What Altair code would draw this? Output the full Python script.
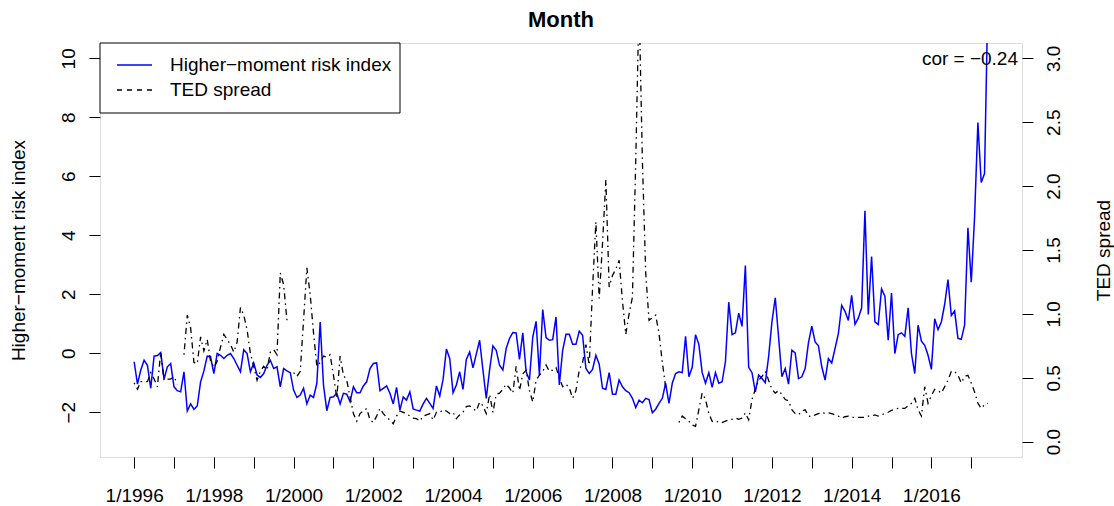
import altair as alt
import pandas as pd

# month index 0 = 1/1996
hmri = [
    -0.29, -1.05, -0.57, -0.24, -0.41, -1.19, -0.10, -0.08, 0.02, -0.88,
    -0.46, -0.35, -1.14, -1.27, -1.31, -0.63, -1.96, -1.72, -1.90, -1.79,
    -0.97, -0.60, -0.10, -0.12, -0.69, -0.01, -0.07, -0.18, -0.07, -0.01,
    -0.18, -0.41, -0.63, 0.12, -0.01, -0.63, -0.33, -0.74, -0.82, -0.69,
    -0.41, -0.24, -0.52, -0.46, -1.14, -0.52, -0.60, -0.66, -1.25, -1.50,
    -1.42, -1.19, -1.72, -1.42, -1.50, -1.02, 1.06, -1.08, -1.95, -1.50,
    -1.48, -1.36, -1.72, -1.36, -1.39, -1.64, -1.14, -1.34, -1.34, -1.11,
    -0.97, -0.52, -0.35, -0.33, -1.27, -1.19, -1.11, -1.36, -1.72, -1.16,
    -1.93, -1.48, -1.59, -1.31, -1.89, -1.93, -1.96, -1.72, -1.53, -1.70,
    -1.87, -1.11, -1.45, -0.89, 0.14, -0.18, -1.34, -1.08, -0.63, -1.23,
    -0.21, 0.04, -0.50, -0.03, 0.44, -0.57, -1.53, -0.57, 0.25, 0.10,
    -0.41, -0.57, 0.16, 0.50, 0.70, 0.69, -0.21, 0.69, -0.63, -0.91,
    0.55, 1.08, -0.74, 1.48, 0.53, 0.44, 0.46, 1.23, -1.08, 0.10,
    0.64, 0.64, 0.30, 0.30, 0.75, 0.61, -0.52, -0.69, -0.55, -0.07,
    -0.37, -1.19, -1.23, -0.66, -1.39, -1.39, -0.91, -1.14, -1.27, -1.34,
    -1.53, -1.84, -1.59, -1.68, -1.53, -1.57, -2.02, -1.90, -1.70, -1.53,
    -1.02, -1.70, -1.02, -0.69, -0.63, -0.66, 0.57, -0.80, -0.48, 0.63,
    0.30, -0.66, -1.02, -0.66, -1.16, -0.66, -1.02, -0.97, -0.29, 1.73,
    0.63, 0.69, 1.36, 0.91, 2.97, -0.48, -0.66, -1.31, -0.74, -0.86,
    -1.00, -0.12, 1.06, 1.88, 0.55, -0.80, -0.52, -1.05, 0.10, 0.01,
    -0.86, -0.80, -0.52, 0.36, 0.92, 0.38, 0.25, -0.46, -0.91, -0.18,
    -0.33, 0.16, 0.66, 1.62, 1.42, 1.11, 1.96, 0.98, 1.19, 1.54,
    4.83, 1.31, 3.28, 1.06, 0.97, 2.18, 1.93, 0.44, 2.04, -0.01,
    0.63, 0.69, 0.57, 1.54, -0.01, -0.69, 0.95, 0.41, 0.27, -0.07,
    -0.55, 1.17, 0.80, 1.06, 1.66, 2.50, 1.28, 1.43, 0.50, 0.47,
    0.95, 4.25, 2.41, 4.60, 7.82, 5.79, 6.09, 12.0,
]

ted = [
    0.46, 0.41, 0.47, 0.47, 0.47, 0.54, 0.49, 0.43, 0.70, 0.48,
    0.49, 0.49, 0.51, 0.45, None, 0.68, 0.99, 0.89, 0.62, 0.61,
    0.82, 0.71, 0.80, 0.63, 0.58, 0.63, 0.74, 0.84, 0.80, 0.76,
    0.70, 0.78, 1.05, 0.99, 0.875, 0.69, 0.59, 0.48, 0.55, 0.59,
    0.56, 0.70, 0.72, 0.68, 1.32, 1.23, 0.95, None, 0.54, 0.51,
    0.55, 0.95, 1.36, 1.15, 0.85, 0.59, 0.62, 0.67, 0.66, 0.68,
    0.52, 0.34, 0.67, 0.52, 0.48, 0.35, 0.22, 0.16, 0.22, 0.24,
    0.26, 0.17, 0.15, 0.20, 0.26, 0.22, 0.19, 0.17, 0.14, 0.20,
    0.24, 0.23, 0.22, 0.20, 0.185, 0.18, 0.16, 0.20, 0.21, 0.22,
    0.17, 0.23, 0.23, 0.25, 0.24, 0.22, 0.23, 0.18, 0.21, 0.23,
    0.275, 0.28, 0.26, 0.24, 0.31, 0.28, 0.22, 0.37, 0.23, 0.37,
    0.38, 0.41, 0.45, 0.42, 0.38, 0.59, 0.40, 0.53, 0.56, 0.40,
    0.31, 0.48, 0.52, 0.55, 0.60, 0.55, 0.56, 0.58, 0.50, 0.43,
    0.45, 0.42, 0.34, 0.40, 0.56, 0.62, 0.76, 0.60, 1.20, 1.72,
    1.12, 1.55, 2.05, 1.21, 1.30, 1.35, 1.42, 1.10, 0.84, 1.00,
    1.13, 2.20, 3.45, 2.20, 1.32, 0.95, 0.97, 0.99, 0.85, 0.62,
    0.43, None, None, None, 0.15, 0.20, 0.18, 0.16, 0.13, 0.12,
    0.25, 0.38, 0.33, 0.22, 0.16, 0.15, 0.16, 0.15, 0.16, 0.17,
    0.175, 0.185, 0.175, 0.185, 0.225, 0.17, 0.33, 0.41, 0.48, 0.51,
    0.55, 0.48, 0.41, 0.38, 0.40, 0.37, 0.33, 0.32, 0.25, 0.22,
    0.21, 0.24, 0.25, 0.20, 0.195, 0.21, 0.22, 0.23, 0.22, 0.225,
    0.22, 0.21, 0.20, 0.185, 0.195, 0.20, 0.19, 0.19, 0.19, 0.19,
    0.19, 0.20, 0.20, 0.21, 0.20, 0.21, 0.22, 0.23, 0.245, 0.255,
    0.26, 0.26, 0.26, 0.28, 0.30, 0.34, 0.25, 0.20, 0.43, 0.30,
    0.36, 0.41, 0.40, 0.38, 0.43, 0.48, 0.55, 0.55, 0.52, 0.46,
    0.51, 0.52, 0.46, 0.39, 0.30, 0.26, 0.29, 0.30,
]

months = list(range(len(hmri)))

xtick_values = list(range(0, 253, 12))
xtick_labels = ["1/1996", "", "1/1998", "", "1/2000", "", "1/2002", "",
                "1/2004", "", "1/2006", "", "1/2008", "", "1/2010", "",
                "1/2012", "", "1/2014", "", "1/2016", ""]
left_ticks = [-2, 0, 2, 4, 6, 8, 10]
right_ticks = [0.0, 0.5, 1.0, 1.5, 2.0, 2.5, 3.0]

title_text = "Month"
left_title = "Higher\u2212moment risk index"
right_title = "TED spread"
legend_labels = ["Higher\u2212moment risk index", "TED spread"]
cor_text = "cor = \u22120.24"

df = pd.DataFrame({"i": months, "hmri": hmri, "ted": ted})
df["seg"] = df["ted"].isna().cumsum()
ted_df = df.dropna(subset=["ted"])

W, H = 922, 414
FONT = "Liberation Sans"
FS = 19

x_scale = alt.Scale(domain=[-10.28, 267.28], nice=False, zero=False)
label_expr = "[" + ",".join("'%s'" % l for l in xtick_labels) + "][round(datum.value/12)]"
x_axis = alt.Axis(values=xtick_values, labelExpr=label_expr, title=None, grid=False,
                  domain=False, tickSize=11, tickColor="black", tickWidth=1,
                  labelFont=FONT, labelFontSize=FS, labelColor="black",
                  labelPadding=27, labelBaseline="middle", labelFlush=False,
                  labelOverlap=False)

left_axis = alt.Axis(orient="left", values=left_ticks, title=left_title, grid=False,
                     domain=False, tickSize=11, tickColor="black", tickWidth=1,
                     labelFont=FONT, labelFontSize=FS, labelColor="black",
                     labelAngle=270, labelAlign="center", labelBaseline="middle",
                     labelPadding=21, labelFlush=False, labelOverlap=False,
                     titleFont=FONT, titleFontSize=FS, titleFontWeight="normal",
                     titleColor="black", titleAngle=270, titleX=-82, titleY=H / 2,
                     titleAlign="center", titleBaseline="middle")

right_axis = alt.Axis(orient="right", values=right_ticks, format=".1f", title=right_title,
                      grid=False, domain=False, tickSize=11, tickColor="black", tickWidth=1,
                      labelFont=FONT, labelFontSize=FS, labelColor="black",
                      labelAngle=270, labelAlign="center", labelBaseline="middle",
                      labelPadding=20, labelFlush=False, labelOverlap=False,
                      titleFont=FONT, titleFontSize=FS, titleFontWeight="normal",
                      titleColor="black", titleAngle=270, titleX=81, titleY=H / 2,
                      titleAlign="center", titleBaseline="middle")

blue = alt.Chart(df).mark_line(color="#0000FF", strokeWidth=1.5, clip=True).encode(
    x=alt.X("i:Q", scale=x_scale, axis=x_axis),
    y=alt.Y("hmri:Q", scale=alt.Scale(domain=[-3.52, 10.52], nice=False, zero=False),
            axis=left_axis),
)

ted_line = alt.Chart(ted_df).mark_line(color="black", strokeWidth=1.3,
                                       strokeDash=[1.5, 4, 6, 4], clip=True).encode(
    x=alt.X("i:Q", scale=x_scale, axis=x_axis),
    y=alt.Y("ted:Q", scale=alt.Scale(domain=[-0.12, 3.12], nice=False, zero=False),
            axis=right_axis),
    detail="seg:N",
)

one = alt.Data(values=[{"k": 1}])

legend_box = alt.Chart(one).mark_rect(fill="white", stroke="black", strokeWidth=1).encode(
    x=alt.value(0), x2=alt.value(300), y=alt.value(0), y2=alt.value(70))
leg_blue = alt.Chart(one).mark_rule(color="#0000FF", strokeWidth=1.5).encode(
    x=alt.value(17), x2=alt.value(52), y=alt.value(22))
leg_ted = alt.Chart(one).mark_rule(color="black", strokeWidth=1.3, strokeDash=[5, 5]).encode(
    x=alt.value(17), x2=alt.value(52), y=alt.value(47))
leg_t1 = alt.Chart(one).mark_text(align="left", baseline="middle", font=FONT, fontSize=FS,
                                  color="black").encode(
    x=alt.value(70), y=alt.value(22), text=alt.value(legend_labels[0]))
leg_t2 = alt.Chart(one).mark_text(align="left", baseline="middle", font=FONT, fontSize=FS,
                                  color="black").encode(
    x=alt.value(70), y=alt.value(47), text=alt.value(legend_labels[1]))
cor = alt.Chart(one).mark_text(align="right", baseline="middle", font=FONT, fontSize=FS,
                               color="black").encode(
    x=alt.value(918), y=alt.value(16), text=alt.value(cor_text))
title = alt.Chart(one).mark_text(align="center", baseline="middle", font=FONT, fontSize=22,
                                 fontWeight="bold", color="black").encode(
    x=alt.value(W / 2), y=alt.value(-23), text=alt.value(title_text))

chart = alt.layer(blue, ted_line, legend_box, leg_blue, leg_ted, leg_t1, leg_t2, cor, title
                  ).resolve_scale(y="independent").properties(
    width=W, height=H,
    autosize=alt.AutoSizeParams(type="none"),
    padding={"left": 100, "top": 43, "right": 92, "bottom": 49},
).configure_view(stroke="black", strokeWidth=1).configure(background="white")

chart.save("out.html", embed_options={"renderer": "svg", "actions": False})
